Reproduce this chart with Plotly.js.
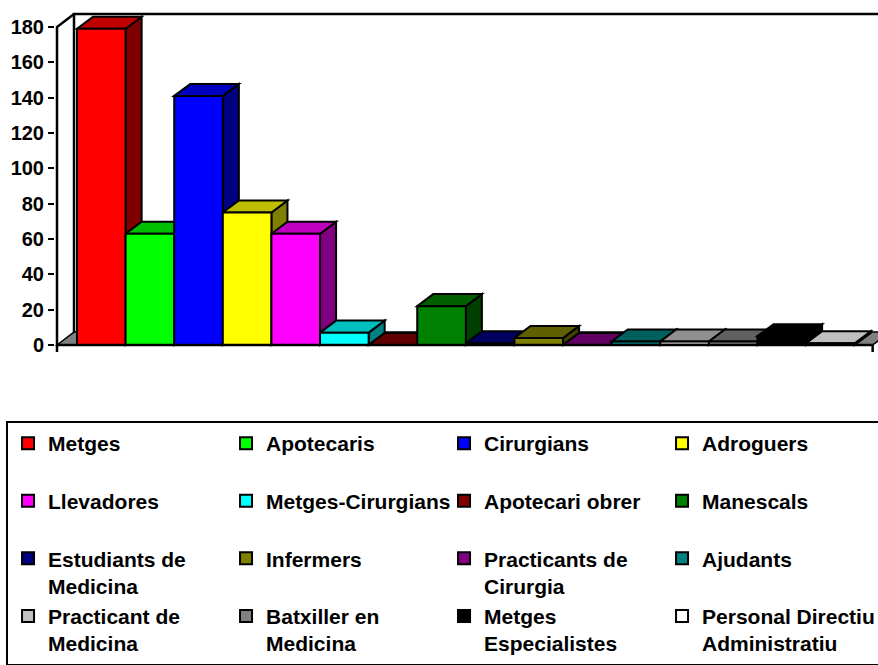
<!DOCTYPE html>
<html><head><meta charset="utf-8">
<script src="https://cdn.plot.ly/plotly-3.0.1.min.js"></script>
<style>html,body{margin:0;padding:0;background:#fff;}#chart{width:878px;height:665px;}</style>
</head><body><div id="chart"></div>
<script>
// ---- data ----
const categories = ["Metges","Apotecaris","Cirurgians","Adroguers","Llevadores","Metges-Cirurgians","Apotecari obrer","Manescals","Estudiants de Medicina","Infermers","Practicants de Cirurgia","Ajudants","Practicant de Medicina","Batxiller en Medicina","Metges Especialistes","Personal Directiu Administratiu"];
const legendLabels = ["Metges","Apotecaris","Cirurgians","Adroguers","Llevadores","Metges-Cirurgians","Apotecari obrer","Manescals","Estudiants de<br>Medicina","Infermers","Practicants de<br>Cirurgia","Ajudants","Practicant de<br>Medicina","Batxiller en<br>Medicina","Metges<br>Especialistes","Personal Directiu<br>Administratiu"];
const values = [179, 63, 141, 75, 63, 7, 0, 22, 1, 4, 0, 2, 2, 2, 5, 1];
const colors = ["#FF0000","#00FF00","#0000FF","#FFFF00","#FF00FF","#00FFFF","#800000","#008000","#000080","#808000","#800080","#008080","#C0C0C0","#808080","#000000","#FFFFFF"];
const yTicks = [0, 20, 40, 60, 80, 100, 120, 140, 160, 180];

// ---- 3D geometry (styling constants) ----
const BAR_DX = 0.33, BAR_DY = 6.8;
const WALL_DX = 0.35, WALL_DY = 7.3;
const X_WALL = -0.9115, X_END = 15.87, WALL_TOP = 180;
const FONT = "Liberation Sans, Arial, Helvetica, sans-serif";

function shade(hex, f) {
  const n = parseInt(hex.slice(1), 16);
  const r = Math.round(((n >> 16) & 255) * f), g = Math.round(((n >> 8) & 255) * f), b = Math.round((n & 255) * f);
  return `rgb(${r},${g},${b})`;
}
function path(pts) { return "M" + pts.map(p => p[0] + "," + p[1]).join("L") + "Z"; }
function openPath(pts) { return "M" + pts.map(p => p[0] + "," + p[1]).join("L"); }

const traces = categories.map((c, i) => {
  const lbl = legendLabels[i].includes("<br>") ? legendLabels[i] : legendLabels[i] + "<br>\u00A0";
  return {
    type: "bar", x: [i], y: [values[i]], width: 1, name: lbl,
    marker: { color: colors[i], line: { color: "#000", width: 2 } },
    hovertemplate: c + ": %{y}<extra></extra>"
  };
});

const shapes = [];
// floor
shapes.push({ type: "path", xref: "x", yref: "y", layer: "below",
  path: path([[X_WALL, 0], [X_WALL + WALL_DX, WALL_DY], [X_END + WALL_DX, WALL_DY], [X_END, 0]]),
  fillcolor: "#808080", line: { color: "#000", width: 1.5 } });
// bar side and top faces
values.forEach((v, i) => {
  const L = i - 0.5, R = i + 0.5;
  shapes.push({ type: "path", xref: "x", yref: "y", layer: "below",
    path: path([[R, 0], [R + BAR_DX, BAR_DY], [R + BAR_DX, v + BAR_DY], [R, v]]),
    fillcolor: shade(colors[i], 0.5), line: { color: "#000", width: 2 } });
  shapes.push({ type: "path", xref: "x", yref: "y", layer: "below",
    path: path([[L, v], [L + BAR_DX, v + BAR_DY], [R + BAR_DX, v + BAR_DY], [R, v]]),
    fillcolor: shade(colors[i], 0.75), line: { color: "#000", width: 2 } });
});
// frame lines
const lineStyle = { color: "#000", width: 2.5 };
shapes.push({ type: "path", xref: "x", yref: "y", layer: "above", line: lineStyle,
  path: openPath([[X_WALL, -4], [X_WALL, WALL_TOP], [X_WALL + WALL_DX, WALL_TOP + WALL_DY]]) });
shapes.push({ type: "path", xref: "x", yref: "y", layer: "above", line: lineStyle,
  path: openPath([[X_WALL + WALL_DX, WALL_DY], [X_WALL + WALL_DX, WALL_TOP + WALL_DY], [17, WALL_TOP + WALL_DY]]) });
shapes.push({ type: "path", xref: "x", yref: "y", layer: "above", line: lineStyle,
  path: openPath([[X_WALL, 0], [X_END, 0], [X_END, -4]]) });

const layout = {
  width: 878, height: 665,
  margin: { l: 55, r: 0, t: 10, b: 312, autoexpand: false },
  paper_bgcolor: "#fff", plot_bgcolor: "#fff",
  barmode: "overlay", showlegend: true,
  xaxis: { range: [-0.9527, 15.98], visible: false, fixedrange: true },
  yaxis: { range: [-4.53, 189.62], tickvals: yTicks, ticktext: yTicks.map(String),
    showgrid: false, zeroline: false, showline: false,
    ticks: "outside", ticklen: 6, tickwidth: 2, tickcolor: "#000",
    tickfont: { family: FONT, size: 20, weight: "bold", color: "#000" }, fixedrange: true },
  legend: { orientation: "h", x: -0.0595, xanchor: "left", y: -0.19825, yanchor: "top",
    entrywidth: 173, entrywidthmode: "pixels", valign: "top",
    font: { family: FONT, size: 21, weight: "bold", color: "#000" },
    bgcolor: "#fff", bordercolor: "#000", borderwidth: 2 },
  shapes: shapes
};
Plotly.newPlot("chart", traces, layout, { displayModeBar: false, staticPlot: false });
</script></body></html>
